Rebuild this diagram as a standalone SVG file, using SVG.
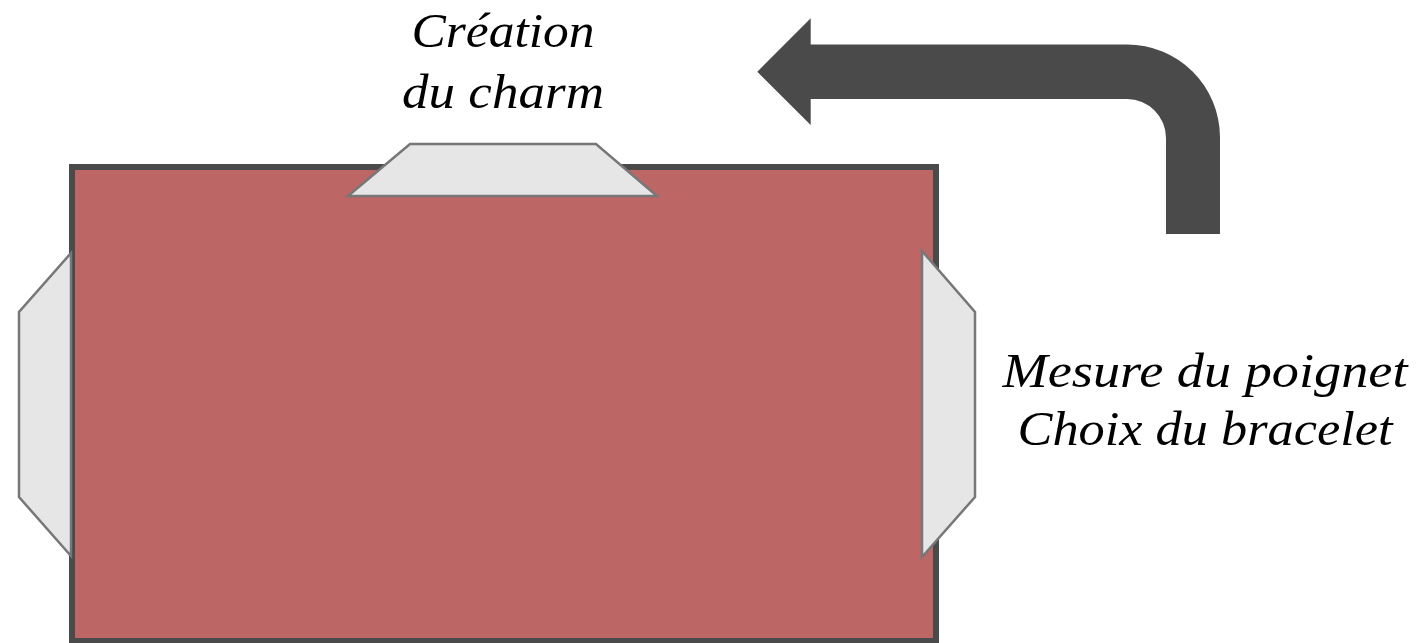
<svg xmlns="http://www.w3.org/2000/svg" width="1423" height="643" viewBox="0 0 1423 643">
<style>
.lbl{font-family:"Liberation Serif","Times New Roman",serif;font-style:italic;font-size:49px;fill:#000;text-anchor:middle}
.tab{fill:#e6e6e6;stroke:#777777;stroke-width:2.5;stroke-linejoin:miter}
</style>
<rect width="1423" height="643" fill="#ffffff"/>
<g id="body">
<rect x="72" y="167" width="864" height="474" fill="#bc6665" stroke="#4a4a4a" stroke-width="6"/>
</g>
<g id="tab-top"><polygon class="tab" points="410,144 596,144 657,196 348,196"/></g>
<g id="tab-left"><polygon class="tab" points="71,253 19,312 19,497 71,556"/></g>
<g id="tab-right"><polygon class="tab" points="922,251 975,312 975,497 922,557"/></g>
<g id="connectors">
<path d="M1166,234 H1220 V137 A93,93 0 0 0 1127,44.5 H810.7 V18.3 L757.3,71.7 L810.7,125 V99 H1127 A39,39 0 0 1 1166,138 Z" fill="#4a4a4a"/>
</g>
<g id="label-top">
<text class="lbl" x="503" y="47" textLength="183" lengthAdjust="spacingAndGlyphs">Création</text>
<text class="lbl" x="503" y="108" textLength="202" lengthAdjust="spacingAndGlyphs">du charm</text>
</g>
<g id="label-right">
<text class="lbl" x="1205" y="387" textLength="405" lengthAdjust="spacingAndGlyphs">Mesure du poignet</text>
<text class="lbl" x="1205" y="445" textLength="375" lengthAdjust="spacingAndGlyphs">Choix du bracelet</text>
</g>
</svg>
